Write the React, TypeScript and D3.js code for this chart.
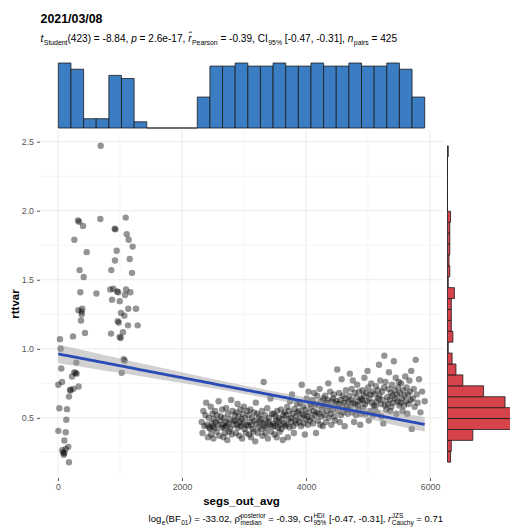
import * as d3 from 'd3';
import { useEffect, useRef } from 'react';

const title = '2021/03/08';
const xLabel = 'segs_out_avg';
const yLabel = 'rttvar';
const xTicks = [0, 2000, 4000, 6000];
const xMinor = [1000, 3000, 5000];
const yTicks = [0.5, 1.0, 1.5, 2.0, 2.5];
const yMinor = [0.25, 0.75, 1.25, 1.75, 2.25];

// [segs_out_avg, rttvar] for the runs below ~1500 segments
const lowSegs: [number, number][] = [
  [688, 2.47], [322, 1.93], [340, 1.92], [403, 1.89], [683, 1.94], [1092, 1.95], [915, 1.87], [925, 1.865], [1108, 1.83], [263, 1.79],
  [1140, 1.79], [462, 1.70], [946, 1.71], [1204, 1.74], [919, 1.64], [1156, 1.65], [349, 1.57], [414, 1.52], [860, 1.57], [1194, 1.55],
  [360, 1.41], [620, 1.40], [844, 1.43], [892, 1.435], [952, 1.415], [973, 1.41], [1097, 1.43], [1166, 1.41], [1081, 1.39], [871, 1.355],
  [995, 1.345], [328, 1.28], [392, 1.29], [382, 1.25], [371, 1.205], [1016, 1.26], [1070, 1.24], [1134, 1.29], [1258, 1.29], [963, 1.20],
  [1129, 1.17], [1285, 1.17], [435, 1.115], [242, 1.09], [32, 1.07], [43, 1.00], [53, 0.857], [5, 0.74], [65, 0.76], [295, 0.90],
  [263, 0.83], [285, 0.824], [226, 0.80], [333, 0.727], [198, 0.703], [200, 0.698], [177, 0.654], [22, 0.57], [145, 0.563], [134, 0.486],
  [5, 0.406], [124, 0.396], [102, 0.336], [166, 0.29], [69, 0.266], [102, 0.244], [92, 0.232], [124, 0.275], [177, 0.179], [855, 1.11],
  [995, 1.085], [1011, 1.078], [1048, 1.12], [1060, 0.925], [1075, 0.913], [1027, 0.826], [980, 1.19], [84, 0.25], [250, 0.71], [300, 0.82],
  [380, 1.27],
];

// [segs_out_avg, rttvar] for the runs above ~2300 segments
const highSegs: [number, number][] = [
  [2318, 0.47], [2331, 0.39], [2345, 0.55], [2362, 0.44], [2377, 0.52], [2390, 0.61], [2402, 0.45], [2418, 0.36], [2430, 0.50], [2441, 0.43],
  [2455, 0.42], [2463, 0.58], [2471, 0.38], [2480, 0.46], [2489, 0.53], [2497, 0.44], [2506, 0.35], [2515, 0.49], [2524, 0.425], [2533, 0.55],
  [2545, 0.47], [2556, 0.40], [2566, 0.52], [2577, 0.45], [2590, 0.62], [2601, 0.37], [2613, 0.48], [2624, 0.51], [2636, 0.43], [2647, 0.56],
  [2658, 0.45], [2667, 0.36], [2675, 0.50], [2684, 0.43], [2693, 0.39], [2703, 0.47], [2712, 0.57], [2721, 0.44], [2731, 0.34], [2741, 0.53],
  [2750, 0.46], [2760, 0.40], [2771, 0.49], [2781, 0.42], [2792, 0.63], [2803, 0.38], [2814, 0.55], [2826, 0.45], [2837, 0.48], [2849, 0.52],
  [2861, 0.48], [2869, 0.39], [2878, 0.54], [2887, 0.45], [2896, 0.60], [2905, 0.43], [2914, 0.51], [2923, 0.37], [2932, 0.47], [2942, 0.56],
  [2951, 0.44], [2960, 0.49], [2969, 0.35], [2979, 0.53], [2989, 0.46], [2998, 0.58], [3008, 0.42], [3018, 0.50], [3029, 0.39], [3040, 0.45], [3052, 0.55],
  [3066, 0.44], [3075, 0.52], [3084, 0.38], [3093, 0.47], [3103, 0.56], [3112, 0.36], [3121, 0.45], [3131, 0.50], [3141, 0.42], [3151, 0.40],
  [3161, 0.54], [3171, 0.48], [3181, 0.33], [3191, 0.61], [3201, 0.46], [3212, 0.53], [3222, 0.39], [3233, 0.43], [3244, 0.51], [3256, 0.47],
  [3270, 0.49], [3279, 0.42], [3289, 0.55], [3298, 0.37], [3307, 0.46], [3317, 0.76], [3326, 0.44], [3336, 0.52], [3345, 0.39], [3355, 0.48],
  [3365, 0.43], [3375, 0.57], [3385, 0.35], [3395, 0.47], [3405, 0.50], [3416, 0.45], [3426, 0.64], [3437, 0.40], [3448, 0.53], [3459, 0.44],
  [3473, 0.46], [3482, 0.53], [3491, 0.38], [3500, 0.44], [3509, 0.51], [3518, 0.48], [3527, 0.36], [3536, 0.55], [3546, 0.43], [3555, 0.47],
  [3565, 0.50], [3575, 0.40], [3585, 0.45], [3595, 0.56], [3605, 0.42], [3615, 0.49], [3625, 0.34], [3635, 0.52], [3645, 0.46], [3655, 0.54], [3666, 0.44],
  [3678, 0.52], [3687, 0.45], [3697, 0.58], [3706, 0.36], [3716, 0.49], [3725, 0.55], [3735, 0.43], [3745, 0.62], [3754, 0.50], [3764, 0.47],
  [3774, 0.67], [3784, 0.53], [3794, 0.44], [3804, 0.39], [3814, 0.565], [3824, 0.48], [3834, 0.51], [3845, 0.46], [3856, 0.60], [3867, 0.54],
  [3882, 0.55], [3891, 0.47], [3901, 0.61], [3911, 0.50], [3921, 0.44], [3931, 0.74], [3941, 0.53], [3951, 0.58], [3961, 0.46], [3971, 0.52],
  [3981, 0.38], [3991, 0.56], [4001, 0.49], [4011, 0.64], [4021, 0.51], [4031, 0.45], [4041, 0.69], [4051, 0.54], [4061, 0.48], [4071, 0.60],
  [4086, 0.58], [4095, 0.50], [4104, 0.63], [4113, 0.46], [4123, 0.55], [4132, 0.68], [4142, 0.52], [4151, 0.60], [4161, 0.39], [4171, 0.54],
  [4181, 0.66], [4190, 0.48], [4200, 0.59], [4210, 0.53], [4220, 0.71], [4230, 0.45], [4240, 0.62], [4250, 0.51], [4260, 0.56], [4270, 0.44], [4279, 0.64],
  [4290, 0.59], [4299, 0.52], [4309, 0.66], [4319, 0.47], [4329, 0.61], [4339, 0.55], [4349, 0.63], [4359, 0.75], [4369, 0.50], [4379, 0.58],
  [4389, 0.69], [4399, 0.53], [4409, 0.45], [4419, 0.62], [4429, 0.56], [4439, 0.64], [4449, 0.67], [4459, 0.51], [4469, 0.48], [4479, 0.60],
  [4494, 0.62], [4504, 0.85], [4514, 0.55], [4524, 0.60], [4534, 0.68], [4544, 0.47], [4554, 0.63], [4564, 0.52], [4574, 0.78], [4584, 0.59],
  [4594, 0.66], [4604, 0.54], [4614, 0.61], [4624, 0.44], [4634, 0.64], [4644, 0.70], [4654, 0.56], [4664, 0.58], [4674, 0.53], [4684, 0.62],
  [4698, 0.66], [4707, 0.82], [4717, 0.58], [4726, 0.63], [4736, 0.71], [4746, 0.54], [4755, 0.77], [4765, 0.61], [4775, 0.47], [4785, 0.68],
  [4795, 0.60], [4805, 0.52], [4815, 0.65], [4825, 0.74], [4835, 0.59], [4845, 0.56], [4855, 0.69], [4864, 0.62], [4874, 0.45], [4883, 0.53], [4891, 0.64],
  [4902, 0.63], [4912, 0.70], [4922, 0.575], [4932, 0.66], [4942, 0.79], [4952, 0.60], [4962, 0.53], [4972, 0.68], [4982, 0.62], [4992, 0.84],
  [5002, 0.72], [5012, 0.48], [5022, 0.64], [5032, 0.67], [5042, 0.55], [5052, 0.75], [5062, 0.61], [5072, 0.69], [5082, 0.52], [5092, 0.59],
  [5108, 0.67], [5118, 0.58], [5128, 0.73], [5138, 0.62], [5148, 0.54], [5158, 0.70], [5168, 0.64], [5177, 0.885], [5187, 0.66], [5197, 0.77],
  [5207, 0.60], [5217, 0.51], [5227, 0.69], [5237, 0.63], [5247, 0.46], [5257, 0.72], [5263, 0.95], [5273, 0.59], [5283, 0.76], [5294, 0.56],
  [5310, 0.65], [5319, 0.60], [5329, 0.71], [5338, 0.83], [5348, 0.63], [5358, 0.55], [5367, 0.68], [5377, 0.58], [5387, 0.74], [5397, 0.66],
  [5407, 0.61], [5417, 0.91], [5427, 0.70], [5437, 0.64], [5447, 0.79], [5457, 0.53], [5467, 0.67], [5477, 0.62], [5487, 0.72], [5497, 0.76], [5504, 0.59],
  [5514, 0.68], [5524, 0.61], [5535, 0.75], [5546, 0.64], [5557, 0.55], [5568, 0.70], [5579, 0.59], [5590, 0.66], [5601, 0.80], [5612, 0.62],
  [5623, 0.72], [5634, 0.53], [5645, 0.67], [5656, 0.60], [5667, 0.77], [5678, 0.69], [5689, 0.63], [5697, 0.84], [5705, 0.42],
  [5722, 0.64], [5738, 0.71], [5752, 0.58], [5769, 0.92], [5785, 0.67], [5801, 0.61], [5823, 0.78], [5846, 0.54], [5872, 0.69], [5914, 0.62],
];

type Piece = { t: string; it?: boolean; sup?: string; sub?: string };

const subtitle: Piece[] = [
  { t: 't', it: true, sub: 'Student' },
  { t: '(423) = -8.84, ' },
  { t: 'p', it: true },
  { t: ' = 2.6e-17, ' },
  { t: 'r\u0302', it: true, sub: 'Pearson' },
  { t: ' = -0.39, CI', sub: '95%' },
  { t: ' [-0.47, -0.31], ' },
  { t: 'n', it: true, sub: 'pairs' },
  { t: ' = 425' },
];

const caption: Piece[] = [
  { t: 'log', sub: 'e' },
  { t: '(BF', sub: '01' },
  { t: ') = -33.02, ' },
  { t: '\u03C1\u0302', sup: 'posterior', sub: 'median' },
  { t: ' = -0.39, CI', sup: 'HDI', sub: '95%' },
  { t: ' [-0.47, -0.31], ' },
  { t: 'r', it: true, sup: 'JZS', sub: 'Cauchy' },
  { t: ' = 0.71' },
];

const FONT = '"Liberation Sans", Arial, Helvetica, sans-serif';

function drawRich(g: d3.Selection<SVGGElement, unknown, null, undefined>, pieces: Piece[], size: number) {
  let cx = 0;
  const add = (s: string, px: number, py: number, fs: number, it?: boolean) => {
    const t = g
      .append('text')
      .attr('x', px)
      .attr('y', py)
      .attr('font-size', fs)
      .attr('font-style', it ? 'italic' : 'normal')
      .style('white-space', 'pre')
      .text(s);
    return (t.node() as SVGTextElement).getComputedTextLength();
  };
  for (const p of pieces) {
    if (p.t) cx += add(p.t, cx, 0, size, p.it);
    let w = 0;
    if (p.sup) w = Math.max(w, add(p.sup, cx + 0.5, -size * 0.42, size * 0.68));
    if (p.sub) w = Math.max(w, add(p.sub, cx + 0.5, size * 0.32, size * 0.68));
    cx += w ? w + 0.5 : 0;
  }
  return cx;
}

export default function App() {
  const ref = useRef<SVGSVGElement | null>(null);

  useEffect(() => {
    if (!ref.current) return;
    const svg = d3.select(ref.current);
    svg.selectAll('*').remove();

    const data = [...lowSegs, ...highSegs];
    const xs = data.map((d) => d[0]);
    const ys = data.map((d) => d[1]);
    const [xMin, xMax] = d3.extent(xs) as [number, number];
    const [yMin, yMax] = d3.extent(ys) as [number, number];
    const xPad = (xMax - xMin) * 0.05;
    const yPad = (yMax - yMin) * 0.05;

    const panel = { left: 40, right: 443, top: 130, bottom: 478 };
    const x = d3.scaleLinear().domain([xMin - xPad, xMax + xPad]).range([panel.left, panel.right]);
    const y = d3.scaleLinear().domain([yMin - yPad, yMax + yPad]).range([panel.bottom, panel.top]);

    // grid
    const grid = svg.append('g');
    grid
      .selectAll('line.vx')
      .data([...xMinor, ...xTicks])
      .join('line')
      .attr('x1', (d) => x(d))
      .attr('x2', (d) => x(d))
      .attr('y1', panel.top)
      .attr('y2', panel.bottom)
      .attr('stroke', (d) => (xMinor.includes(d) ? '#f0f0f0' : '#e6e6e6'))
      .attr('stroke-width', (d) => (xMinor.includes(d) ? 0.6 : 0.8));
    grid
      .selectAll('line.hy')
      .data([...yMinor, ...yTicks])
      .join('line')
      .attr('x1', panel.left)
      .attr('x2', panel.right)
      .attr('y1', (d) => y(d))
      .attr('y2', (d) => y(d))
      .attr('stroke', (d) => (yMinor.includes(d) ? '#f0f0f0' : '#e6e6e6'))
      .attr('stroke-width', (d) => (yMinor.includes(d) ? 0.6 : 0.8));

    // points
    svg
      .append('g')
      .selectAll('circle')
      .data(data)
      .join('circle')
      .attr('cx', (d) => x(d[0]))
      .attr('cy', (d) => y(d[1]))
      .attr('r', 3.2)
      .attr('fill', '#000')
      .attr('fill-opacity', 0.42);

    // linear fit with 95% CI
    const n = data.length;
    const xBar = d3.mean(xs)!;
    const yBar = d3.mean(ys)!;
    const sxx = d3.sum(xs, (v) => (v - xBar) ** 2);
    const sxy = d3.sum(data, (d) => (d[0] - xBar) * (d[1] - yBar));
    const slope = sxy / sxx;
    const icpt = yBar - slope * xBar;
    const sse = d3.sum(data, (d) => (d[1] - (icpt + slope * d[0])) ** 2);
    const s = Math.sqrt(sse / (n - 2));
    const tCrit = 1.9656;
    const grid80 = d3.range(0, 81).map((i) => xMin + ((xMax - xMin) * i) / 80);
    const band = grid80.map((gx) => {
      const fit = icpt + slope * gx;
      const se = s * Math.sqrt(1 / n + (gx - xBar) ** 2 / sxx);
      return { gx, fit, lo: fit - tCrit * se, hi: fit + tCrit * se };
    });
    svg
      .append('path')
      .datum(band)
      .attr('fill', '#999')
      .attr('fill-opacity', 0.45)
      .attr(
        'd',
        d3
          .area<(typeof band)[number]>()
          .x((d) => x(d.gx))
          .y0((d) => y(d.lo))
          .y1((d) => y(d.hi)),
      );
    svg
      .append('path')
      .datum(band)
      .attr('fill', 'none')
      .attr('stroke', '#2a4bb5')
      .attr('stroke-width', 2.8)
      .attr(
        'd',
        d3
          .line<(typeof band)[number]>()
          .x((d) => x(d.gx))
          .y((d) => y(d.fit)),
      );

    // axes
    const xAxis = svg
      .append('g')
      .attr('transform', `translate(0,${panel.bottom})`)
      .call(d3.axisBottom(x).tickValues(xTicks).tickFormat(d3.format('d')).tickSize(3).tickPadding(3));
    const yAxis = svg
      .append('g')
      .attr('transform', `translate(${panel.left},0)`)
      .call(d3.axisLeft(y).tickValues(yTicks).tickFormat(d3.format('.1f')).tickSize(3).tickPadding(3));
    [xAxis, yAxis].forEach((a) => {
      a.select('.domain').remove();
      a.selectAll('line').attr('stroke', '#555');
      a.selectAll('text').attr('fill', '#555').attr('font-size', 8.8).attr('font-family', FONT);
    });

    // top marginal histogram
    const xThresholds = d3.range(1, 29).map((i) => xMin + ((xMax - xMin) * i) / 29);
    const xBins = d3.bin().domain([xMin, xMax]).thresholds(xThresholds)(xs);
    const topBase = 128;
    const hTop = d3.scaleLinear().domain([0, d3.max(xBins, (b) => b.length)!]).range([topBase, 63]);
    svg
      .append('g')
      .selectAll('path')
      .data(xBins)
      .join('path')
      .attr('d', (b) => `M${x(b.x0!)},${topBase}V${hTop(b.length)}H${x(b.x1!)}V${topBase}Z`)
      .attr('fill', '#3b7dc2')
      .attr('stroke', '#1a1a1a')
      .attr('stroke-width', 0.8);

    // right marginal histogram
    const yThresholds = d3.range(1, 29).map((i) => yMin + ((yMax - yMin) * i) / 29);
    const yBins = d3.bin().domain([yMin, yMax]).thresholds(yThresholds)(ys);
    const rightBase = 447.5;
    const wRight = d3.scaleLinear().domain([0, d3.max(yBins, (b) => b.length)!]).range([rightBase, rightBase + 66]);
    svg
      .append('g')
      .selectAll('path')
      .data(yBins)
      .join('path')
      .attr('d', (b) => `M${rightBase},${y(b.x0!)}H${wRight(b.length)}V${y(b.x1!)}H${rightBase}Z`)
      .attr('fill', '#d6434a')
      .attr('stroke', '#1a1a1a')
      .attr('stroke-width', 0.8);

    // titles
    svg
      .append('text')
      .attr('x', 40.5)
      .attr('y', 23)
      .attr('font-size', 12.4)
      .attr('font-weight', 'bold')
      .text(title);
    const sub = svg.append('g').attr('transform', 'translate(40.5,41.5)');
    drawRich(sub, subtitle, 10.1);
    const cap = svg.append('g');
    const capW = drawRich(cap, caption, 9.5);
    cap.attr('transform', `translate(${panel.right - capW},522)`);

    svg
      .append('text')
      .attr('x', (panel.left + panel.right) / 2)
      .attr('y', 505)
      .attr('text-anchor', 'middle')
      .attr('font-size', 11.5)
      .attr('font-weight', 'bold')
      .text(xLabel);
    svg
      .append('text')
      .attr('transform', `translate(19,${(panel.top + panel.bottom) / 2}) rotate(-90)`)
      .attr('text-anchor', 'middle')
      .attr('font-size', 11.5)
      .attr('font-weight', 'bold')
      .text(yLabel);
  }, []);

  return (
    <svg
      ref={ref}
      width={510}
      height={529}
      fontFamily={FONT}
      style={{ position: 'absolute', left: 0, top: 0, background: '#fff' }}
    />
  );
}
